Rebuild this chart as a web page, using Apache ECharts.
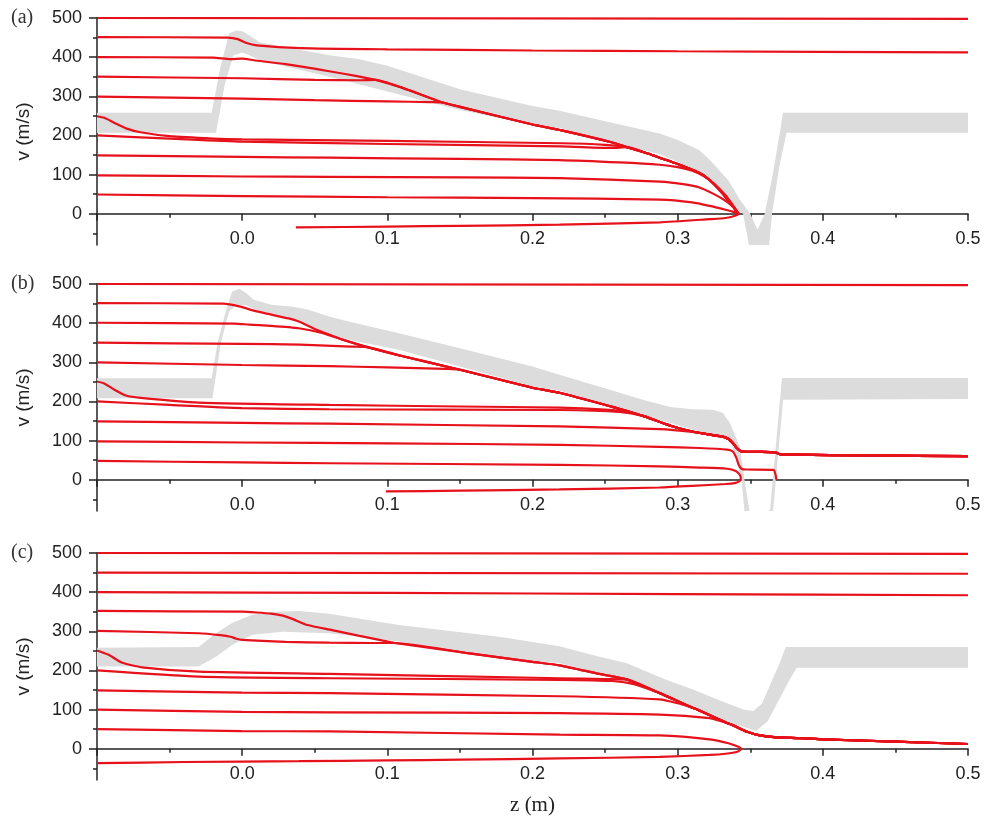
<!DOCTYPE html>
<html>
<head>
<meta charset="utf-8">
<script src="https://cdn.jsdelivr.net/npm/echarts@6/dist/echarts.min.js"></script>
<style>
  html, body { margin: 0; padding: 0; background: #fff; }
  #chart { width: 989px; height: 821px; }
</style>
</head>
<body>
<div id="chart"></div>
<script>
// axis ticks
var yMajor = [0, 100, 200, 300, 400, 500];
var yMinor = [-50, 50, 150, 250, 350, 450];
var panelNames = ['(a)', '(b)', '(c)'];

// ---------- panel (a) ----------
var bandUpperA = [[-0.1,258],[-0.021,258],[-0.015,375],[-0.009,461],[-0.004,468],[0.0,466],[0.005,455],[0.012,438],[0.03,425],[0.06,405],[0.08,395],[0.1,378],[0.15,318],[0.2,275],[0.2186,263],[0.25,236],[0.2876,205],[0.3,188],[0.315,162],[0.322,138],[0.335,85],[0.343,35],[0.35,0],[0.355,-41],[0.36,0],[0.3655,100],[0.3705,210],[0.3725,258],[0.5,258]];
var bandLowerA = [[-0.1,207],[-0.018,207],[-0.012,330],[-0.006,405],[0.0,412],[0.005,405],[0.012,392],[0.03,376],[0.06,350],[0.09,322],[0.15,265],[0.2,227],[0.2186,219],[0.25,188],[0.2876,152],[0.3,133],[0.315,105],[0.322,82],[0.333,35],[0.345,0],[0.3475,-48],[0.349,-100],[0.363,-100],[0.365,0],[0.37,120],[0.375,207],[0.5,207]];
var mainA = [[0.092,342],[0.11,322],[0.138,284],[0.15,273],[0.2,228],[0.22,213],[0.255,182],[0.265,170],[0.28,153],[0.2876,143],[0.3,127],[0.315,104],[0.322,86],[0.33,56],[0.336,29],[0.34,9],[0.342,0]];
var returnA = [[0.339,-6],[0.333,-11],[0.322,-14],[0.2876,-22],[0.2186,-28],[0.15,-31],[0.1,-33],[0.037,-35]];
var a500 = [[-0.1,500],[0.5,498]];
var a450 = [[-0.1,451],[-0.01,450],[-0.003,446],[0.003,436],[0.01,430],[0.04,423],[0.1,420],[0.2,417],[0.3,415],[0.5,412]];
var a400 = [[-0.1,400],[-0.02,399],[-0.008,395],[0.0,396],[0.008,392],[0.03,382],[0.06,364],[0.08,351]];
var a350 = [[-0.1,350],[0.0,346],[0.05,342],[0.08,341]];
var a300 = [[-0.1,299],[0.0,294],[0.05,290],[0.1,287],[0.13,285]];
var a250 = [[-0.1,249],[-0.095,245],[-0.088,232],[-0.08,218],[-0.07,208],[-0.05,198],[-0.02,192],[0.0,190],[0.1,186],[0.22,180],[0.25,176]];
var a200 = [[-0.1,200],[-0.05,192],[0.0,184],[0.1,178],[0.22,172],[0.255,168]];
var a150 = [[-0.1,149],[0.0,145],[0.06,143],[0.15,140],[0.2186,137],[0.26,131],[0.2876,125],[0.3,119],[0.31,110],[0.318,96],[0.325,77],[0.333,47],[0.338,22],[0.341,6],[0.342,0]];
var a100 = [[-0.1,98],[0.0,95],[0.06,94],[0.15,93],[0.2186,91],[0.2876,82],[0.305,75],[0.315,67],[0.325,50],[0.333,33],[0.338,18],[0.341,6],[0.342,0]];
var a50 = [[-0.1,49],[0.0,45],[0.1,42],[0.2,40],[0.2876,36],[0.31,29],[0.322,20],[0.333,10],[0.339,4],[0.342,0]];

// ---------- panel (b) ----------
var bandUpperB = [[-0.1,259],[-0.021,259],[-0.017,349],[-0.011,434],[-0.007,480],[-0.002,488],[0.003,476],[0.008,460],[0.02,447],[0.035,442],[0.045,435],[0.06,417],[0.069,408],[0.108,374],[0.15,336],[0.2,289],[0.2186,268],[0.255,228],[0.276,204],[0.295,186],[0.31,180],[0.324,179],[0.331,171],[0.336,145],[0.3428,85],[0.346,0],[0.3495,-100],[0.3625,-100],[0.3637,-77],[0.3718,258],[0.3725,260],[0.5,260]];
var bandLowerB = [[-0.1,208],[-0.0205,208],[-0.0147,349],[-0.009,430],[-0.004,447],[0.003,445],[0.012,430],[0.025,418],[0.039,404],[0.06,370],[0.069,361],[0.108,332],[0.15,289],[0.2,238],[0.2186,228],[0.255,183],[0.276,166],[0.31,128],[0.324,115],[0.336,102],[0.3405,51],[0.344,0],[0.346,-100],[0.3655,-100],[0.3658,-77],[0.3726,204],[0.5,206]];
var mainB = [[0.069,358],[0.087,338],[0.11,316],[0.15,281],[0.2,235],[0.2186,222],[0.255,186],[0.268,172],[0.276,163],[0.295,138],[0.31,123],[0.322,115],[0.331,110],[0.335,104],[0.338,94],[0.3407,81],[0.344,72],[0.355,71],[0.367,70],[0.3705,65],[0.38,64],[0.43,62],[0.5,60]];
var returnB = [[0.3425,-4],[0.34,-8],[0.333,-11],[0.31,-16],[0.2876,-20],[0.2186,-25],[0.15,-28],[0.099,-30]];
var b500 = [[-0.1,500],[0.5,497]];
var b450 = [[-0.1,451],[-0.013,450],[-0.002,443],[0.008,432],[0.016,425],[0.032,412],[0.039,404],[0.05,385],[0.062,368]];
var b400 = [[-0.1,401],[-0.005,399],[0.005,396],[0.02,393],[0.039,387],[0.055,375]];
var b350 = [[-0.1,350],[0.0,347],[0.04,345],[0.075,340]];
var b300 = [[-0.1,300],[0.0,293],[0.06,290],[0.1,287],[0.14,283]];
var b250 = [[-0.1,251],[-0.095,246],[-0.088,230],[-0.08,215],[-0.07,209],[-0.03,197],[0.06,191],[0.15,187],[0.2186,184],[0.25,179]];
var b200 = [[-0.1,200],[-0.05,191],[0.0,183],[0.06,180],[0.2186,178],[0.26,173]];
var b150 = [[-0.1,149],[0.0,145],[0.06,143],[0.2186,136],[0.2876,129],[0.31,122],[0.325,114]];
var b100 = [[-0.1,98],[0.0,95],[0.1,93],[0.2186,89],[0.2876,84],[0.315,81],[0.334,77],[0.338,72],[0.3405,55],[0.342,38],[0.344,28],[0.347,26],[0.366,25],[0.3675,12],[0.368,0]];
var b50 = [[-0.1,48],[0.0,44],[0.06,42],[0.2186,38],[0.2876,34],[0.315,31],[0.334,28],[0.34,22],[0.3428,12],[0.3435,3]];

// ---------- panel (c) ----------
var bandUpperC = [[-0.1,258],[-0.03,260],[-0.018,295],[-0.007,321],[0.007,342],[0.021,350],[0.039,352],[0.06,345],[0.108,316],[0.177,286],[0.2186,262],[0.246,235],[0.2646,219],[0.292,176],[0.3106,151],[0.33,122],[0.3453,100],[0.352,96],[0.358,115],[0.3703,219],[0.3745,260],[0.5,260]];
var bandLowerC = [[-0.1,210],[-0.03,210],[-0.018,235],[-0.007,265],[0.007,291],[0.028,299],[0.06,295],[0.108,274],[0.177,231],[0.2186,219],[0.246,190],[0.2646,170],[0.292,133],[0.3106,102],[0.33,72],[0.3453,56],[0.354,45],[0.362,70],[0.3772,177],[0.382,207],[0.5,207]];
var mainC = [[0.062,303],[0.08,289],[0.097,276],[0.105,270],[0.154,245],[0.2,222],[0.2186,213],[0.246,191],[0.2646,177],[0.2876,142],[0.3106,104],[0.313,101],[0.3336,66],[0.338,60],[0.3474,44],[0.3566,34],[0.368,29],[0.384,27],[0.4,24],[0.45,18],[0.5,12]];
var returnC = [[0.341,-8],[0.333,-13],[0.322,-16],[0.2876,-21],[0.2186,-25],[0.15,-28],[0.1,-30],[0.039,-32],[-0.04,-34],[-0.1,-37]];
var c500 = [[-0.1,500],[0.5,498]];
var c450 = [[-0.1,450],[0.5,447]];
var c400 = [[-0.1,400],[0.1,398],[0.3,395],[0.5,392]];
var c350 = [[-0.1,352],[0.0,350],[0.01,348],[0.02,345],[0.028,340],[0.035,331],[0.045,316]];
var c300 = [[-0.1,301],[-0.03,295],[-0.015,290],[-0.008,286],[-0.004,281],[0.0,278],[0.03,273],[0.06,271],[0.09,270]];
var c250 = [[-0.1,251],[-0.092,240],[-0.083,220],[-0.069,208],[-0.03,197],[0.06,191],[0.15,185],[0.2186,180],[0.25,178]];
var c200 = [[-0.1,200],[-0.03,184],[0.06,180],[0.2186,176],[0.255,173],[0.27,165]];
var c150 = [[-0.1,149],[0.0,143],[0.06,142],[0.2186,134],[0.2876,126],[0.3,116],[0.308,107]];
var c100 = [[-0.1,100],[0.0,94],[0.06,93],[0.2186,91],[0.2876,87],[0.322,78],[0.33,70]];
var c50 = [[-0.1,50],[0.0,45],[0.06,44],[0.2186,36],[0.2876,34],[0.322,24],[0.335,14],[0.341,6],[0.3439,0]];

function tail(path, z0) {
    return path.filter(function (p) { return p[0] >= z0 - 1e-9; });
}

var panels = [
    {
        upper: bandUpperA, lower: bandLowerA,
        lines: [a500, a450, a400.concat(mainA), a350.concat(mainA), a300.concat(tail(mainA, 0.138)),
                a250.concat(tail(mainA, 0.265)), a200.concat(tail(mainA, 0.265)), a150, a100, a50.concat(returnA)]
    },
    {
        upper: bandUpperB, lower: bandLowerB,
        lines: [b500, b450.concat(mainB), b400.concat(mainB), b350.concat(tail(mainB, 0.087)),
                b300.concat(tail(mainB, 0.15)), b250.concat(tail(mainB, 0.268)), b200.concat(tail(mainB, 0.276)),
                b150.concat(tail(mainB, 0.331)), b100, b50.concat(returnB)]
    },
    {
        upper: bandUpperC, lower: bandLowerC,
        lines: [c500, c450, c400, c350.concat(mainC), c300.concat(tail(mainC, 0.105)),
                c250.concat(tail(mainC, 0.2646)), c200.concat(tail(mainC, 0.2876)),
                c150.concat(tail(mainC, 0.313)), c100.concat(tail(mainC, 0.338)), c50.concat(returnC)]
    }
];

var gridTops = [18, 284, 553];
var gridH = 227;
var yMin = -80, yMax = 500;
var axisColor = '#222';
var sans = 'Liberation Sans, Arial, sans-serif';
var serif = 'Liberation Serif, Times New Roman, serif';
// x axis sits on v = 0, i.e. moved up from the grid bottom
var zeroOffset = -gridH * (0 - yMin) / (yMax - yMin);

function makeBand(upper, lower) {
    return function (params, api) {
        var pts = upper.concat(lower.slice().reverse()).map(function (p) { return api.coord(p); });
        var cs = params.coordSys;
        pts = echarts.graphic.clipPointsByRect(pts, { x: cs.x, y: cs.y, width: cs.width, height: cs.height });
        return { type: 'polygon', shape: { points: pts }, style: { fill: '#dcdcdc' } };
    };
}

var grids = [], xAxes = [], yAxes = [], series = [], graphics = [];

panels.forEach(function (p, i) {
    grids.push({ left: 97, right: 21, top: gridTops[i], height: gridH });
    xAxes.push({
        type: 'value', gridIndex: i, min: -0.1, max: 0.5, interval: 0.1,
        position: 'bottom', offset: zeroOffset,
        name: i === 2 ? 'z (m)' : '', nameLocation: 'middle', nameGap: 46,
        nameTextStyle: { fontFamily: serif, fontSize: 21, color: axisColor },
        axisLine: { onZero: false, lineStyle: { color: axisColor, width: 1.5 } },
        axisTick: { length: 7, lineStyle: { color: axisColor, width: 1.5 } },
        minorTick: { show: true, splitNumber: 2, length: 4, lineStyle: { color: axisColor, width: 1.5 } },
        splitLine: { show: false },
        axisLabel: {
            margin: 16, fontSize: 18, color: axisColor, fontFamily: sans,
            formatter: function (v) { return v < -0.05 ? '' : Math.abs(v).toFixed(1); }
        }
    });
    yAxes.push({
        type: 'value', gridIndex: i, min: yMin, max: yMax, position: 'left',
        name: 'v (m/s)', nameLocation: 'middle', nameGap: 64,
        nameTextStyle: { fontFamily: sans, fontSize: 19, color: axisColor },
        axisLine: { show: true, onZero: false, lineStyle: { color: axisColor, width: 1.5 } },
        axisTick: { show: true, length: 8, customValues: yMajor, lineStyle: { color: axisColor, width: 1.5 } },
        axisLabel: { customValues: yMajor, margin: 15, fontSize: 18, color: axisColor, fontFamily: sans },
        splitLine: { show: false }
    });
    yAxes.push({
        type: 'value', gridIndex: i, min: yMin, max: yMax, position: 'left', offset: 0,
        axisLine: { show: false, onZero: false },
        axisTick: { show: true, length: 4, customValues: yMinor, lineStyle: { color: axisColor, width: 1.5 } },
        axisLabel: { show: false },
        splitLine: { show: false }
    });
    series.push({
        type: 'custom', xAxisIndex: i, yAxisIndex: i * 2, data: [[0, 0]], z: 1, silent: true,
        renderItem: makeBand(p.upper, p.lower)
    });
    p.lines.forEach(function (d) {
        series.push({
            type: 'line', xAxisIndex: i, yAxisIndex: i * 2, data: d, z: 3,
            showSymbol: false, symbol: 'none', smooth: 0.2, silent: true,
            lineStyle: { color: '#e6111a', width: 2.2 }
        });
    });
    graphics.push({
        type: 'text', left: 11, top: gridTops[i] - 10,
        style: { text: panelNames[i], font: '20px ' + serif, fill: '#333' }
    });
});

var chart = echarts.init(document.getElementById('chart'));
chart.setOption({
    animation: false,
    backgroundColor: '#fff',
    grid: grids,
    xAxis: xAxes,
    yAxis: yAxes,
    series: series,
    graphic: graphics
});
</script>
</body>
</html>
